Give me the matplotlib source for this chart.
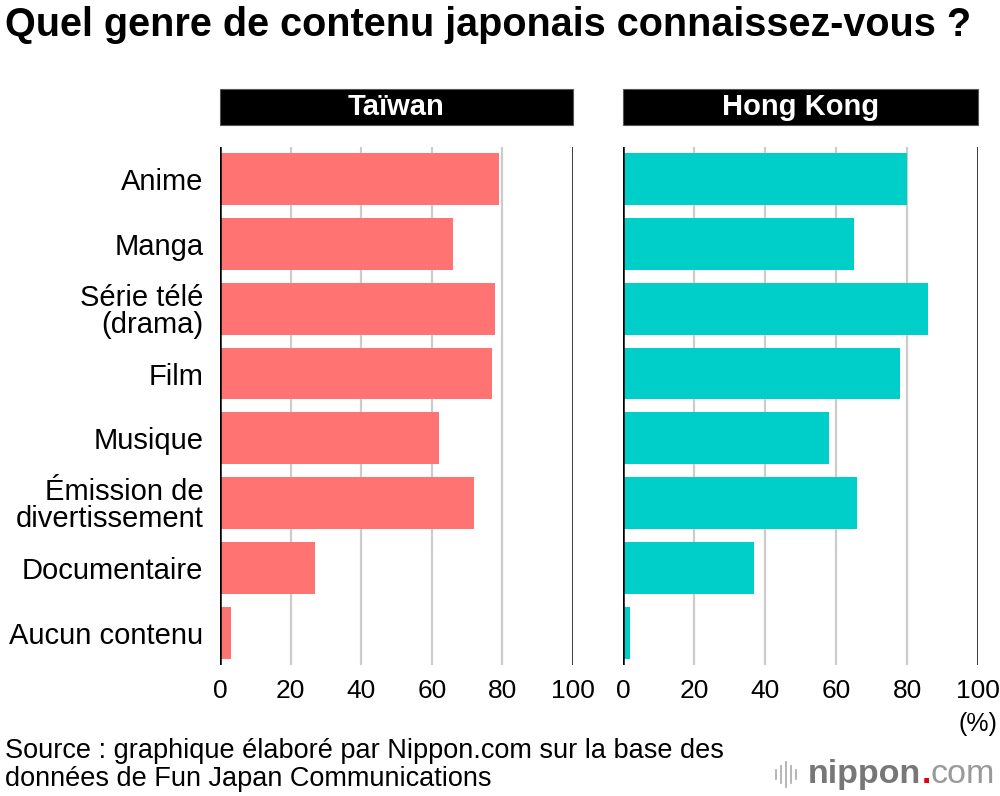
import matplotlib
matplotlib.use("Agg")
import matplotlib.pyplot as plt
from matplotlib.patches import Rectangle
from matplotlib.lines import Line2D

plt.rcParams['font.family'] = ['Liberation Sans', 'DejaVu Sans']

categories = ["Anime", "Manga", "Série télé\n(drama)", "Film", "Musique",
              "Émission de\ndivertissement", "Documentaire", "Aucun contenu"]
taiwan = [79, 66, 78, 77, 62, 72, 27, 3]
hongkong = [80, 65, 86, 78, 58, 66, 37, 2]
ticks = [0, 20, 40, 60, 80, 100]

fig = plt.figure(figsize=(10, 7.96), dpi=100)

ax1 = fig.add_axes([0.22, 0.1646, 0.353, 0.6508])
ax2 = fig.add_axes([0.623, 0.1646, 0.355, 0.6508])

panels = [(ax1, taiwan, "#FF7373", "Taïwan"), (ax2, hongkong, "#00CEC9", "Hong Kong")]
for ax, vals, col, name in panels:
    y = list(range(len(categories)))
    ax.barh(y, vals, height=0.8, color=col, zorder=2)
    ax.set_xlim(0, 100)
    ax.set_ylim(len(categories) - 0.5, -0.5)
    ax.set_xticks(ticks)
    ax.set_xticklabels([str(t) for t in ticks], fontsize=19)
    for t in ticks[1:-1]:
        ax.axvline(t, color="#cccccc", lw=1.6, zorder=1)
    ax.axvline(0, color="black", lw=1.8, zorder=3)
    ax.axvline(100, color="black", lw=1.8, zorder=3)
    for s in ax.spines.values():
        s.set_visible(False)
    ax.tick_params(axis="both", length=0)
    ax.tick_params(axis="x", pad=10)
    ax.set_yticks(y)
    # header box
    pos = ax.get_position()
    fig.add_artist(Rectangle((pos.x0, 0.843), pos.width, 0.0452, transform=fig.transFigure,
                             facecolor="black", edgecolor="#555555", lw=0.8))
    fig.text(pos.x0 + pos.width / 2, 0.843 + 0.0226, name, color="white", fontsize=21,
             fontweight="bold", ha="center", va="center")

ax1.set_yticklabels(categories, fontsize=21, linespacing=0.95)
ax1.tick_params(axis="y", pad=12)
ax2.set_yticklabels([])

fig.text(0.005, 0.969, "Quel genre de contenu japonais connaissez-vous ?", fontsize=28.5,
         fontweight="bold", ha="left", va="center")
fig.text(0.997, 0.09, "(%)", fontsize=18, ha="right", va="center")
fig.text(0.005, 0.039, "Source : graphique élaboré par Nippon.com sur la base des\ndonnées de Fun Japan Communications",
         fontsize=19.5, ha="left", va="center", linespacing=1.12)

# nippon.com logo
t1 = fig.text(0.808, 0.027, "nippon", fontsize=24.5, fontweight="bold", color="#777777", ha="left", va="center")
fig.canvas.draw()
bb = t1.get_window_extent().transformed(fig.transFigure.inverted())
t2 = fig.text(bb.x1, 0.027, ".", fontsize=24.5, fontweight="bold", color="#e60012", ha="left", va="center")
fig.canvas.draw()
bb2 = t2.get_window_extent().transformed(fig.transFigure.inverted())
fig.text(bb2.x1, 0.027, "com", fontsize=24.5, color="#999999", ha="left", va="center")
heights = [0.012, 0.022, 0.032, 0.022, 0.012]
for i, h in enumerate(heights):
    x = 0.776 + i * 0.005
    fig.add_artist(Line2D([x, x], [0.027 - h / 2, 0.027 + h / 2], color="#aaaaaa", lw=1.2,
                          transform=fig.transFigure))

fig.savefig("out.png", dpi=100)
